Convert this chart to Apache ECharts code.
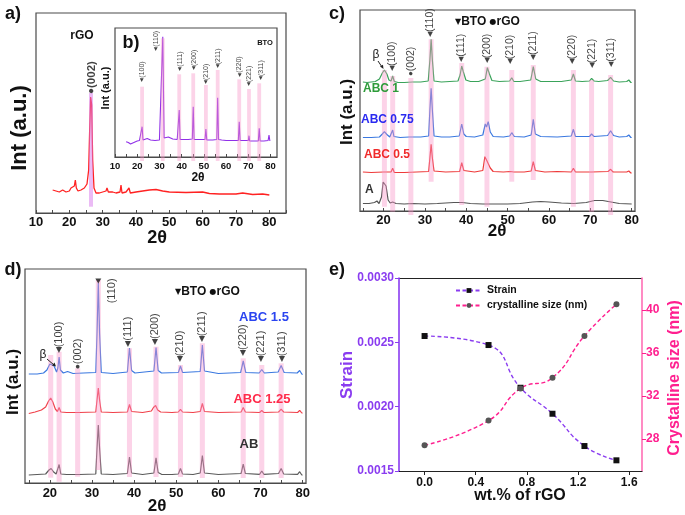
<!DOCTYPE html>
<html><head><meta charset="utf-8">
<script src="https://cdn.jsdelivr.net/npm/echarts@6/dist/echarts.min.js"></script>
<style>html,body{margin:0;padding:0;background:#fff}#c{width:685px;height:515px}</style>
</head><body><div id="c"></div>
<script>
// ---------- DATA (intensities in arbitrary units) ----------
// Panel a: rGO pattern
const aRGO = [[15,23],[16,22],[17,21],[18,23],[19,21],[20,22],[20.5,25],[21,23],[21.5,27],[21.8,33],[22.1,25],[22.6,22],[23.5,23],[24.5,25],[25.3,29],[25.8,43],[26.1,83],[26.4,116],[26.7,108],[27.0,53],[27.4,25],[28,20],[29,20],[30,21],[31,22],[31.3,25],[31.7,21],[33,21],[34,20],[35.2,21],[35.5,28],[35.8,20],[37,21],[37.9,25],[38.3,20],[40,21],[42,22],[44,23],[46,23.5],[48,22],[50,21],[55,20.5],[60,21],[62,19.5],[65,19],[70,19],[72,20],[75,18.5],[78,19],[80,18]];
const aBarX = [26.5], aBarTop = [120], aBarBot = [6.3];
const aHkl = ['(002)'], aHklX = [26.6], aHklY = [119], aHklKind = ['r'];
// Panel b: BTO pattern
const bBTO = [[15,15.3],[16,14.5],[17,13],[18,14],[19,15],[20,16],[21,16.5],[21.8,17],[22.2,30.3],[22.6,17],[23.5,18],[24.5,18.5],[26,17],[28,16.5],[30,17],[30.9,18],[31.5,120.3],[32.1,19],[33,19.5],[34,20],[35,19],[36,18],[38,17.5],[38.5,18],[38.9,47],[39.3,17.5],[41,17.5],[43,17.5],[44.8,18],[45.2,50.3],[45.6,17.5],[48,17.5],[50.5,17.5],[50.9,28],[51.3,17],[54,17],[55.8,17.5],[56.2,59.3],[56.6,17.5],[58,17],[60,16.5],[63,16.5],[65.5,16.5],[65.9,35.3],[66.3,16.5],[68,16.5],[70,16.5],[70.3,21.3],[70.6,16],[72,16],[74.5,16],[74.9,28.7],[75.3,16],[77,16],[78.9,16.5],[79.3,22],[79.7,16],[80,16]];
const bBarX = [22.2,31.5,38.9,45.2,50.9,56.2,65.9,70.3,74.9];
const bBarTop = [70.3,118.7,82.7,83.7,72,87,77.7,68,73.7];
const bBarBot = [-4,-4,-4,-4,-4,-4,-4,-4,-4];
const bHkl = ['(100)','(110)','(111)','(200)','(210)','(211)','(220)','(221)','(311)'];
const bHklX = [22.2,28.4,39.2,45.6,50.9,56.2,65.9,70.3,75.7];
const bHklY = [75.3,106.3,86.3,87,73,88.7,80.3,71,77];
const bHklKind = ['t','t','t','t','t','t','t','t','t'];
// Panel c
const cABC1 = [[15,129],[16,128.5],[17,129],[18,129.5],[19,132],[19.7,138],[20.2,141],[20.8,137],[21.3,131],[21.8,130],[22.2,135],[22.6,129.5],[23.5,128.5],[25,128.5],[27,129],[29,129],[30.8,130],[31.2,151],[31.5,171.7],[31.8,151],[32.2,130],[34,129],[36,129.5],[38,130],[38.5,136],[38.9,145],[39.3,139],[39.9,131],[41,129.5],[43,129.5],[44.6,132],[45.1,143.3],[45.6,137],[46.2,130.5],[48,129.5],[50.5,130],[51,133.3],[51.5,129.5],[53,129.5],[55.6,131],[56.2,144.3],[56.8,132],[58,129.5],[60,129.5],[63,129.5],[65.4,131],[65.9,137],[66.4,130],[68,129.5],[69.8,130],[70.3,132.7],[70.9,130],[72,129.5],[74.2,130.5],[74.9,133.7],[75.6,130],[77,129],[78.8,129.5],[79.3,131],[79.8,128.5],[80,128.5]];
const cABC075 = [[15,73.5],[17,73.5],[19,74],[19.7,77],[20.2,79.3],[20.8,76.5],[21.5,74],[21.9,75],[22.2,81],[22.5,74.5],[24,73.5],[26.2,74],[26.5,76],[26.9,74],[29,74],[30.9,75],[31.2,101],[31.5,122.7],[31.8,101],[32.2,75],[34,74],[36,74],[38.3,75],[38.9,87],[39.4,77],[40,74.5],[42,74],[44,76],[44.6,87],[44.9,84],[45.3,89.3],[45.8,79],[46.5,74.5],[49,74],[50.5,75],[51,78.3],[51.6,74.5],[54,74],[55.7,76],[56.2,91.7],[56.7,77],[58,74.5],[62,74],[65.4,75],[65.9,81.7],[66.4,74.5],[69.8,74.5],[70.3,77],[70.9,74.5],[74.2,75.5],[74.9,80.3],[75.6,75.5],[77,74],[78.8,74.5],[79.3,76],[79.8,73.5],[80,73.5]];
const cABC05 = [[15,39],[17,38.5],[20,39],[21.8,39],[22.2,42.7],[22.6,38.5],[25,38.5],[28,39],[30.9,39.5],[31.2,53],[31.5,66.7],[31.8,53],[32.2,40],[35,39],[38.4,39.5],[38.9,48.3],[39.4,40.5],[42,39],[44,40.5],[44.5,54.3],[44.9,51],[45.2,49.3],[45.8,43],[46.5,39.5],[49,39],[50.6,39.5],[51,41],[51.5,39],[54,39],[55.7,40],[56.2,49.3],[56.7,40.5],[59,39],[62,39.5],[65.4,39],[65.9,42.7],[66.4,39],[70.3,39],[74.3,39.5],[74.9,41.7],[75.5,39],[78.8,39],[79.3,40],[79.8,38],[80,38]];
const cA = [[15,7.5],[16.5,7.5],[17.8,8.5],[18.4,10],[18.9,7.5],[19.5,14],[19.9,29],[20.2,31],[20.6,25],[21.1,11],[21.6,8],[22.2,9],[23,7.5],[25,7],[27,7.5],[30,7],[33,7.5],[35,8],[37,8.5],[39,8.5],[41,7.5],[44,7],[47,7],[50,7],[53,7.5],[56,9],[58,9.5],[60,9],[63,8],[66,7.5],[69,8.5],[71,10.5],[73,10.5],[75,9],[77,7.5],[80,7]];
const cBarX = [20.2,22.2,26.6,31.5,38.9,45.0,51.0,56.2,65.9,70.3,74.9];
const cBarTop = [141,135,133,171.7,148,144.3,141,146,141,131,136];
const cBarBot = [4.3,-0.7,-4,29.3,6,4.3,29.3,31,4.3,-0.7,-4];
const cHkl = ['(100)','(002)','(110)','(111)','(200)','(210)','(211)','(220)','(221)','(311)'];
const cHklX = [22.0,26.6,31.3,38.7,45.1,50.7,56.2,65.7,70.5,75.1];
const cHklY = [140,135,174,149.3,147.7,146.7,151,146.7,142.7,144.3];
const cHklKind = ['t','r','t','t','t','t','t','t','t','t'];
// Panel d
const dABC15 = [[15,109],[17,109],[18.5,110],[19.3,113],[20,119],[20.4,121],[21,117],[21.6,111],[21.9,115],[22.2,126],[22.5,113],[23.2,110],[24.2,111.5],[25.5,109.5],[28,110],[30.9,110.5],[31.2,150],[31.5,200],[31.8,150],[32.2,110.5],[35,109.5],[38.4,111],[38.9,135],[39.4,112.5],[40.2,110],[44.7,112],[45.2,135.5],[45.7,112.5],[46.5,110],[50.5,110.5],[51,117],[51.5,110.5],[55.7,111.5],[56.2,138],[56.7,112],[60,109.5],[65.3,110.5],[65.9,122],[66.5,110.5],[69.7,110],[70.3,113.5],[70.9,110],[74.2,111],[74.9,117.5],[75.6,110.5],[78.7,110],[79.3,112.5],[79.8,109],[80,108.5]];
const dABC125 = [[15,69.5],[16.5,71],[18,73],[19,76],[19.7,82],[20.2,85],[20.7,81],[21.3,74],[21.8,71.5],[22.2,75.5],[22.6,71],[24,70.5],[27,70.5],[30.9,71],[31.2,83],[31.5,95],[31.8,83],[32.2,71],[35,70.5],[38.4,71],[38.9,78.5],[39.4,71.5],[42,70.5],[44.1,72],[44.6,75.5],[45.1,77.5],[45.6,73],[46.3,71],[49,70.5],[50.5,71],[51,73.7],[51.5,71],[54,70.5],[55.7,71.5],[56.2,79.5],[56.7,71.5],[60,70.5],[65.4,71],[65.9,75.5],[66.4,71],[69.8,70.5],[70.3,72.5],[70.8,70.5],[74.3,71],[74.9,73.8],[75.5,71],[78.8,70.5],[79.3,72.7],[79.8,70],[80,70]];
const dAB = [[15,8],[17,8.5],[19,9],[19.8,13],[20.3,14.5],[20.9,11],[21.5,9],[22.2,18.5],[22.6,9],[24,8.5],[27,8.5],[30.9,9],[31.2,35],[31.5,58],[31.8,35],[32.2,9],[35,8.5],[38.4,9.5],[38.9,26],[39.4,10],[42,8.5],[44.7,10],[45.2,25.2],[45.7,10.5],[46.5,8.7],[49,8.5],[50.5,9],[51,14.5],[51.5,9],[54,8.5],[55.7,10],[56.2,27.5],[56.7,10],[60,8.5],[65.4,9.5],[65.9,18.8],[66.4,9.5],[69.8,8.7],[70.3,12],[70.8,8.7],[74.3,9.5],[74.9,14.5],[75.5,9],[78.8,8.7],[79.3,11.3],[79.8,8],[80,8]];
const dBarX = [20.2,22.2,26.6,31.5,38.9,45.2,51.0,56.2,65.9,70.3,74.9];
const dBarTop = [128,131.3,114.7,203,134.7,136.3,118,139.7,124.7,118,119.7];
const dBarBot = [5.3,1.3,6.3,13,6,6,6,5,5,5,5];
const dHkl = ['(100)','(002)','(110)','(111)','(200)','(210)','(211)','(220)','(221)','(311)'];
const dHklX = [22.2,26.7,34.7,38.6,45.0,50.9,56.2,65.8,70.1,75.0];
const dHklY = [129.7,113.7,179.7,136.3,138,120.7,140.7,127,120.7,120.7];
const dHklKind = ['t','r','n','t','t','t','t','t','t','t'];
const dTopMark = [[31.5,202]];
// Panel e
const eWt = [0, 0.5, 0.75, 1.0, 1.25, 1.5];
const eStrain = [0.002549, 0.002479, 0.002147, 0.001945, 0.001694, 0.001583];
const eSize = [27.4, 29.7, 32.7, 33.7, 37.6, 40.55];
// tick labels
const xTicks2t = [10,15,20,25,30,35,40,45,50,55,60,65,70,75,80,85];
const xLabels2t = [10,20,30,40,50,60,70,80];
const xTicksCD = [15,20,25,30,35,40,45,50,55,60,65,70,75,80];
const xLabelsCD = [20,30,40,50,60,70,80];
const eXTicks = [0,0.4,0.8,1.2,1.6];
const eStrainTicks = [0.0015,0.0020,0.0025,0.0030];
const eSizeTicks = [28,32,36,40];

// ---------- CHART ----------
const FF = '"Liberation Sans", Arial, Helvetica, sans-serif';
const chart = echarts.init(document.getElementById('c'), null, {renderer:'canvas'});
const grids = [
  {left:36, top:13, width:250, height:200},
  {left:115, top:28, width:162, height:129},
  {left:360, top:10, width:275, height:201},
  {left:25, top:269, width:281, height:214},
  {left:399, top:278, width:243, height:193, borderWidth:0}
].map(g => Object.assign({show:true, borderColor:'#4a4a4a', borderWidth:1.2, backgroundColor:'#fff', containLabel:false}, g));

function xrdX(idx, min, max, ticks, labels, fs, margin){
  return {type:'value', gridIndex:idx, min, max,
    axisLine:{show:true, onZero:false, lineStyle:{color:'#4a4a4a', width:1.2}},
    axisTick:{show:true, inside:true, length:3, customValues:ticks, lineStyle:{color:'#4a4a4a'}},
    axisLabel:{show:true, customValues:labels, fontSize:fs, fontWeight:'bold', color:'#111', fontFamily:FF, margin},
    splitLine:{show:false}};
}
function hiddenY(idx, max){ return {type:'value', gridIndex:idx, min:0, max, show:false, axisLine:{onZero:false}, splitLine:{show:false}}; }

function lineS(xi, data, color, w){
  return {type:'line', xAxisIndex:xi, yAxisIndex:xi, data, symbol:'none', showSymbol:false,
    lineStyle:{color, width:w||1.2}, z:2, silent:true, animation:false};
}
function barS(xi, xs, tops, bots, wDeg, color){
  return {type:'custom', xAxisIndex:xi, yAxisIndex:xi, clip:false, z:3, silent:true, animation:false,
    data: xs.map((x,i)=>[x,tops[i],bots[i]]),
    renderItem:(params, api)=>{
      const p1 = api.coord([api.value(0), api.value(1)]);
      const p2 = api.coord([api.value(0), api.value(2)]);
      const w = api.size([wDeg,0])[0];
      return {type:'rect', shape:{x:p1[0]-w/2, y:p1[1], width:w, height:p2[1]-p1[1]}, style:{fill:color}};
    }};
}
function hklS(xi, xs, ys, names, kinds, fs, triFs, bold){
  return {type:'scatter', xAxisIndex:xi, yAxisIndex:xi, symbol:'circle', symbolSize:1, clip:false,
    itemStyle:{color:'rgba(0,0,0,0)'}, silent:true, z:6, animation:false,
    data: xs.map((x,i)=>[x, ys[i], names[i], kinds[i]]),
    label:{show:true, position:'inside', rotate:90, align:'left', verticalAlign:'middle',
      fontSize:fs, fontFamily:FF, fontWeight: bold?'bold':'normal', color:'#111',
      formatter: p => (p.value[3]==='r' ? '{d|●}' : p.value[3]==='t' ? '{t|◀}' : '') + p.value[2],
      rich:{t:{fontSize:triFs, verticalAlign:'middle', color:'#111'}, d:{fontSize:triFs+1, verticalAlign:'middle', color:'#111'}}}};
}

const pinkBar = 'rgba(248,150,200,0.42)';
const series = [
  lineS(0, aRGO, '#ff2222', 1.3),
  barS(0, aBarX, aBarTop, aBarBot, 1.2, 'rgba(215,120,235,0.5)'),
  hklS(0, aHklX, aHklY, aHkl, aHklKind, 11.5, 9, true),
  lineS(1, bBTO, '#9030e8', 1.1),
  barS(1, bBarX, bBarTop, bBarBot, 1.7, pinkBar),
  hklS(1, bHklX, bHklY, bHkl, bHklKind, 7, 5, false),
  lineS(2, cABC1, '#3aa35a'), lineS(2, cABC075, '#3a78e0'), lineS(2, cABC05, '#ee3a3a'), lineS(2, cA, '#555555'),
  barS(2, cBarX, cBarTop, cBarBot, 1.2, pinkBar),
  hklS(2, cHklX, cHklY, cHkl, cHklKind, 10.5, 7, false),
  lineS(3, dABC15, '#3a78e0'), lineS(3, dABC125, '#f0404a'), lineS(3, dAB, '#5a5a5a'),
  barS(3, dBarX, dBarTop, dBarBot, 1.2, pinkBar),
  hklS(3, dHklX, dHklY, dHkl, dHklKind, 11, 7.5, false),
  {type:'scatter', xAxisIndex:3, yAxisIndex:3, data:dTopMark, symbol:'triangle', symbolRotate:180, symbolSize:[6,5],
   itemStyle:{color:'#111'}, z:6, silent:true, clip:false},
  {type:'line', name:'Strain', xAxisIndex:4, yAxisIndex:4, data: eWt.map((x,i)=>[x,eStrain[i]]), smooth:0.5,
   symbol:'rect', symbolSize:6, itemStyle:{color:'#111'}, lineStyle:{color:'#8a3cf0', width:1.4, type:[4,2.5]}, z:3},
  {type:'line', name:'crystalline size (nm)', xAxisIndex:4, yAxisIndex:5, data: eWt.map((x,i)=>[x,eSize[i]]), smooth:0.5,
   symbol:'circle', symbolSize:6, itemStyle:{color:'#555'}, lineStyle:{color:'#ff1f8f', width:1.4, type:[4,2.5]}, z:3}
];

const P = '#8a3cf0', K = '#ff1f8f';
function txt(x, y, text, fs, color, opt){
  return Object.assign({type:'text', x, y, silent:true, z:10,
    style:{text, fontSize:fs, fontWeight:'bold', fontFamily:FF, fill:color||'#111', align:'center', verticalAlign:'middle'}}, opt||{});
}
function ltxt(x, y, text, fs, color){
  return {type:'text', x, y, silent:true, z:10,
    style:{text, fontSize:fs, fontWeight:'bold', fontFamily:FF, fill:color, align:'left', verticalAlign:'middle'}};
}
function rtxt(x, y, text, fs, color){ return txt(x, y, text, fs, color, {rotation:Math.PI/2}); }
const legRich = {t:{fontSize:8, fontFamily:'DejaVu Sans', fill:'#111', verticalAlign:'middle'}};
const graphic = [
  txt(13, 14, 'a)', 18), txt(131, 43, 'b)', 18), txt(337, 14, 'c)', 18), txt(13, 270, 'd)', 18), txt(337, 270, 'e)', 18),
  txt(82, 36, 'rGO', 12), txt(265, 43, 'BTO', 7.5),
  rtxt(20, 128, 'Int (a.u.)', 22), txt(157, 238, '2θ', 18),
  rtxt(106, 88, 'Int (a.u.)', 11), txt(198, 178, '2θ', 12),
  rtxt(347, 112, 'Int (a.u.)', 17), txt(497, 231, '2θ', 17),
  rtxt(13, 382, 'Int (a.u.)', 17), txt(157, 506, '2θ', 17),
  rtxt(347, 375, 'Strain', 17, P), rtxt(675, 378, 'Crystalline size (nm)', 16, K), txt(520, 496, 'wt.% of rGO', 16),
  {type:'line', silent:true, z:1, shape:{x1:399, y1:278.5, x2:642, y2:278.5}, style:{stroke:'#222', lineWidth:1.2}},
  {type:'text', x:455, y:22, silent:true, z:10, style:{text:'{t|▼}BTO {t|●}rGO', rich:legRich, fontSize:12, fontWeight:'bold', fontFamily:FF, fill:'#111', align:'left', verticalAlign:'middle'}},
  {type:'text', x:175, y:292, silent:true, z:10, style:{text:'{t|▼}BTO {t|●}rGO', rich:legRich, fontSize:12, fontWeight:'bold', fontFamily:FF, fill:'#111', align:'left', verticalAlign:'middle'}},
  ltxt(363, 89, 'ABC 1', 12, '#2e9c3a'),
  ltxt(361, 120, 'ABC 0.75', 12, '#2a2af0'),
  ltxt(364, 155, 'ABC 0.5', 12, '#f02a2a'),
  ltxt(365, 190, 'A', 12, '#333'),
  txt(264, 317, 'ABC 1.5', 13, '#2a44f0'), txt(262, 399, 'ABC 1.25', 13, '#ff2a4a'), txt(249, 444, 'AB', 13, '#333'),
  {type:'text', x:376, y:55, silent:true, z:10, style:{text:'β', fontSize:12, fontFamily:FF, fill:'#222', align:'center', verticalAlign:'middle'}},
  {type:'line', silent:true, z:10, shape:{x1:378, y1:61, x2:382, y2:67}, style:{stroke:'#222', lineWidth:1}},
  {type:'polygon', silent:true, z:10, shape:{points:[[383.5,69],[380,66.5],[383,64.8]]}, style:{fill:'#222'}},
  {type:'text', x:43, y:355, silent:true, z:10, style:{text:'β', fontSize:12, fontFamily:FF, fill:'#222', align:'center', verticalAlign:'middle'}},
  {type:'line', silent:true, z:10, shape:{x1:47, y1:359, x2:54, y2:365}, style:{stroke:'#222', lineWidth:1}},
  {type:'polygon', silent:true, z:10, shape:{points:[[56,366.5],[52,365.5],[54.5,362.5]]}, style:{fill:'#222'}}
];

const option = {
  animation:false, backgroundColor:'#fff',
  grid: grids,
  xAxis: [
    xrdX(0, 10, 85, xTicks2t, xLabels2t, 13, 3),
    xrdX(1, 10, 82.9, xTicks2t.filter(v=>v<=80), xLabels2t, 9.5, 4),
    xrdX(2, 14.3, 80.8, xTicksCD, xLabelsCD, 13, 3),
    xrdX(3, 14.1, 80.8, xTicksCD, xLabelsCD, 13, 4),
    {type:'value', gridIndex:4, min:-0.2, max:1.7, z:5,
     axisLine:{show:true, onZero:false, lineStyle:{color:'#222', width:1.2}},
     axisTick:{show:true, inside:false, length:4, customValues:eXTicks, lineStyle:{color:'#222'}},
     axisLabel:{customValues:eXTicks, formatter:v=>v.toFixed(1), fontSize:12, fontWeight:'bold', color:'#111', fontFamily:FF, margin:6},
     splitLine:{show:false}}
  ],
  yAxis: [
    hiddenY(0,200), hiddenY(1,129), hiddenY(2,201), hiddenY(3,214),
    {type:'value', gridIndex:4, min:0.0015, max:0.0030, position:'left', z:5,
     axisLine:{show:true, onZero:false, lineStyle:{color:P, width:1.6}},
     axisTick:{show:true, length:4, customValues:eStrainTicks, lineStyle:{color:P}},
     axisLabel:{customValues:eStrainTicks, formatter:v=>v.toFixed(4), fontSize:12, fontWeight:'bold', color:P, fontFamily:FF, margin:5},
     splitLine:{show:false}},
    {type:'value', gridIndex:4, min:25, max:43, position:'right', z:5,
     axisLine:{show:true, onZero:false, lineStyle:{color:'#ff6fb5', width:1.6}},
     axisTick:{show:true, length:4, customValues:eSizeTicks, lineStyle:{color:K}},
     axisLabel:{customValues:eSizeTicks, fontSize:12, fontWeight:'bold', color:K, fontFamily:FF, margin:4},
     splitLine:{show:false}}
  ],
  legend:{show:true, orient:'vertical', left:450, top:280, itemWidth:26, itemHeight:6, itemGap:4,
    data:['Strain','crystalline size (nm)'], textStyle:{fontSize:10.5, fontWeight:'bold', fontFamily:FF, color:'#111'}},
  series,
  graphic
};
chart.setOption(option);
</script></body></html>
